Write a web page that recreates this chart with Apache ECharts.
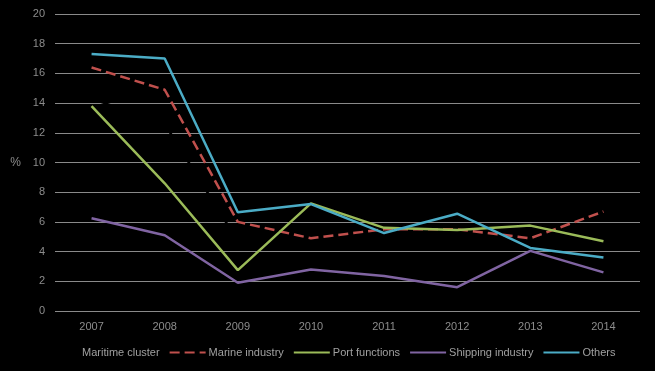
<!DOCTYPE html>
<html>
<head>
<meta charset="utf-8">
<script src="https://cdn.jsdelivr.net/npm/echarts@6/dist/echarts.min.js"></script>
<style>html,body{margin:0;padding:0;background:#000;}#c{width:655px;height:371px;}</style>
</head>
<body>
<div id="c"></div>
<script>
var years = ['2007','2008','2009','2010','2011','2012','2013','2014'];
var maritimeCluster = [14.3, 12.6, 4.7, 4.6, 4.8, 5.0, 5.1, 5.0];
var marineIndustry = [16.4, 14.9, 6.0, 4.9, 5.5, 5.5, 4.9, 6.7];
var portFunctions = [13.8, 8.6, 2.75, 7.25, 5.6, 5.45, 5.75, 4.7];
var shippingIndustry = [6.25, 5.1, 1.9, 2.8, 2.35, 1.6, 4.05, 2.6];
var others = [17.3, 17.0, 6.65, 7.2, 5.25, 6.55, 4.25, 3.6];

var FONT = 'Liberation Sans';
var chart = echarts.init(document.getElementById('c'));
function line(name, data, color, type) {
  return {
    name: name, type: 'line', data: data, symbol: 'none',
    lineStyle: { color: color, width: 2.5, type: type || 'solid' },
    itemStyle: { color: color },
    emphasis: { disabled: true }, animation: false
  };
}
chart.setOption({
  backgroundColor: '#000000',
  animation: false,
  grid: { left: 55, right: 15, top: 14, bottom: 60 },
  legend: {
    bottom: 8, left: 37, itemWidth: 36, itemHeight: 10, itemGap: 9,
    itemStyle: { opacity: 0 },
    textStyle: { color: '#a0a0a0', fontSize: 11, fontFamily: FONT, padding: [0, 0, 0, -2] },
    data: ['Maritime cluster', 'Marine industry', 'Port functions', 'Shipping industry', 'Others']
  },
  xAxis: {
    type: 'category', data: years, boundaryGap: true,
    axisLine: { show: false }, axisTick: { show: false },
    axisLabel: { color: '#8c8c8c', fontSize: 11, fontFamily: FONT, margin: 10 }
  },
  yAxis: {
    type: 'value', min: 0, max: 20, interval: 2,
    name: '%', nameLocation: 'middle', nameGap: 34, nameRotate: 0,
    nameTextStyle: { color: '#8c8c8c', fontSize: 12, fontFamily: FONT },
    axisLine: { show: false }, axisTick: { show: false },
    axisLabel: { color: '#8c8c8c', fontSize: 11, fontFamily: FONT, margin: 10 },
    splitLine: { lineStyle: { color: '#8a8a8a', width: 1.2 } }
  },
  series: [
    line('Maritime cluster', maritimeCluster, '#000000'),
    line('Marine industry', marineIndustry, '#c0504d', [10, 5]),
    line('Port functions', portFunctions, '#9bbb59'),
    line('Shipping industry', shippingIndustry, '#8064a2'),
    line('Others', others, '#4bacc6')
  ]
});
</script>
</body>
</html>
